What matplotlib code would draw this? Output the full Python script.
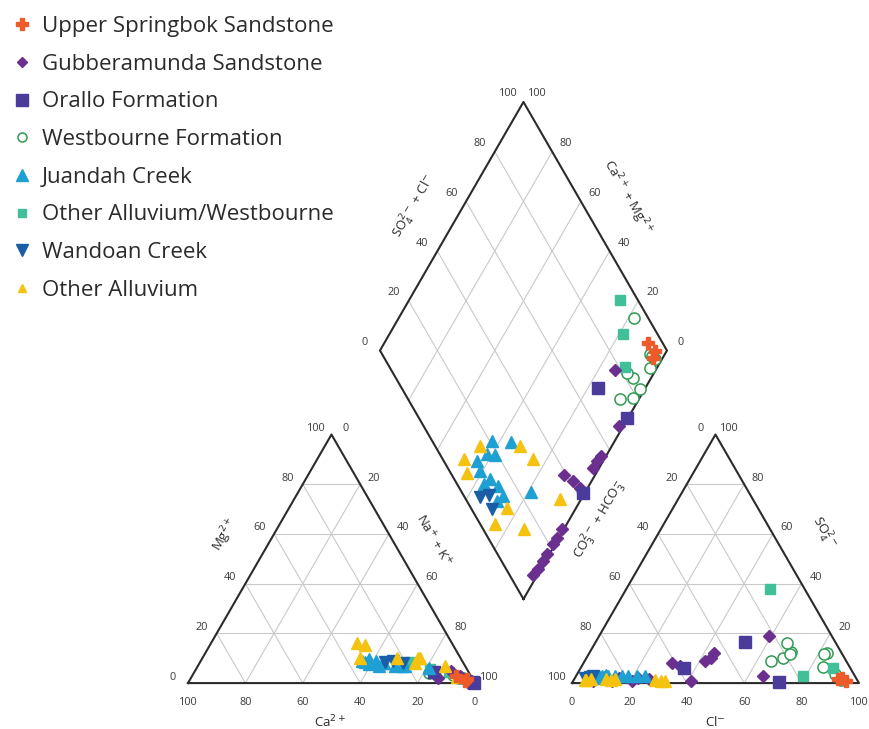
import numpy as np
import matplotlib
matplotlib.use("Agg")
import matplotlib.pyplot as plt
from matplotlib.lines import Line2D

plt.rcParams['font.family'] = ['Open Sans', 'DejaVu Sans']

# ---- sample chemistry (% meq) per group: cations Ca, Mg (Na+K = rest); anions Cl, SO4 (CO3+HCO3 = rest)
springbok_ca = [5, 2, 3]
springbok_mg = [3, 1.5, 1]
springbok_cl = [93, 92, 95]
springbok_so4 = [2, 1.5, 1]

gubber_ca = [1.0, 0.6, 0.6, 0.4, 0.4, 0.3, 0.3, 6, 4, 1.5, 1.2, 1.2, 1.2, 1.0, 12]
gubber_mg = [0.5, 0.5, 0.4, 0.3, 0.2, 0.1, 0.2, 5, 2.7, 1.0, 0.8, 0.7, 0.8, 0.7, 2]
gubber_cl = [7, 9.5, 13.3, 15.4, 20.5, 22, 26, 31, 34, 41, 43.5, 43.6, 41.7, 65, 59]
gubber_so4 = [1, 1.5, 1, 2, 1, 2, 1.5, 8, 7, 1, 10, 12, 9, 3, 19]

orallo_ca = [12, 0.5, 0.3]
orallo_mg = [4.5, 0.3, 0.2]
orallo_cl = [52, 36, 72]
orallo_so4 = [16.5, 6, 0.5]

westb_ca = [14, 3, 1.5, 1.4, 4, 4.5, 1.5, 1.0, 6, 2.5]
westb_mg = [4, 2, 0.8, 0.8, 2.5, 2, 1.0, 0.5, 3.2, 1.5]
westb_cl = [83, 90, 93, 84.3, 70, 65, 68.5, 67, 70, 82]
westb_so4 = [12, 3.5, 1.3, 6.4, 12.5, 9, 10, 16, 11.7, 11.7]

juandah_ca = [34, 28, 34.8, 32, 33, 27.6, 30, 24.4, 21, 22, 13, 30]
juandah_mg = [8.6, 8, 9, 9.7, 7.8, 8, 7, 7, 7, 7, 6, 9]
juandah_cl = [18, 24, 9, 13.6, 8, 10, 7, 11, 10, 8, 21, 16]
juandah_so4 = [3, 3, 2.7, 3, 2.8, 2.6, 2.2, 3, 3.4, 2.6, 3, 3]

oaw_ca = [18, 13, 7]
oaw_mg = [8.5, 5.5, 4.4]
oaw_cl = [88, 50, 79]
oaw_so4 = [6, 38, 3]

wandoan_ca = [27, 21, 24]
wandoan_mg = [8.5, 8, 9]
wandoan_cl = [3.5, 5, 6]
wandoan_so4 = [2, 2.3, 3]

alluv_ca = [33, 30.5, 22, 15, 35, 14, 17, 7, 5]
alluv_mg = [16, 15.3, 10, 10, 10, 10, 8, 7, 2.4]
alluv_cl = [6, 14, 28.5, 30.5, 4.5, 11, 4, 13, 32]
alluv_so4 = [1.5, 1.8, 1.2, 1, 1.1, 1.5, 1.3, 1.3, 1]

group_names = ["Upper Springbok Sandstone", "Gubberamunda Sandstone", "Orallo Formation",
               "Westbourne Formation", "Juandah Creek", "Other Alluvium/Westbourne",
               "Wandoan Creek", "Other Alluvium"]

tick_values = [0, 20, 40, 60, 80, 100]

# ---- Piper geometry
H = np.sqrt(3) / 2
GAP = 33.8
AX0 = 100 + GAP                   # left corner of the anion triangle
BX, BY = 100 + GAP / 2, GAP * H   # bottom vertex of the diamond


def cation_xy(ca, mg):
    ca, mg = np.asarray(ca, float), np.asarray(mg, float)
    na = 100 - ca - mg
    return na + 0.5 * mg, mg * H


def anion_xy(cl, so4):
    cl, so4 = np.asarray(cl, float), np.asarray(so4, float)
    return AX0 + cl + 0.5 * so4, so4 * H


def diamond_xy(ca, mg, cl, so4):
    u = np.asarray(ca, float) + np.asarray(mg, float)
    v = np.asarray(cl, float) + np.asarray(so4, float)
    return BX + 0.5 * (v - u), BY + H * (u + v)


fig = plt.figure(figsize=(8.69, 7.29), dpi=100)
ax = fig.add_axes([0, 0, 1, 1])
ax.set_xlim(-65.5, 237.3)
ax.set_ylim(-16.0, 238.0)
ax.axis('off')

grid_kw = dict(color='#c9c9c9', lw=0.8, zorder=1)
edge_kw = dict(color='#2b2b2b', lw=1.5, zorder=2)
tick_kw = dict(fontsize=7.8, color='#3a3a3a', ha='center', va='center',
               textcoords='offset pixels')


def triangle(x0):
    pts = np.array([[x0, 0], [x0 + 100, 0], [x0 + 50, 100 * H], [x0, 0]])
    for k in (20, 40, 60, 80):
        f = k / 100
        ax.plot([x0 + 50 * f, x0 + 100 - 50 * f], [100 * H * f] * 2, **grid_kw)
        ax.plot([x0 + 100 * f, x0 + 100 * f + 50 * (1 - f)], [0, 100 * H * (1 - f)], **grid_kw)
        ax.plot([x0 + 100 * f, x0 + 50 * f], [0, 100 * H * f], **grid_kw)
    ax.plot(pts[:, 0], pts[:, 1], **edge_kw)


triangle(0)
triangle(AX0)

# diamond
top = (BX, BY + 200 * H)
left = (BX - 50, BY + 100 * H)
right = (BX + 50, BY + 100 * H)
for k in (20, 40, 60, 80):
    f = k / 100
    ax.plot([BX - 50 * f, BX - 50 * f + 50], [BY + 100 * H * f, BY + 100 * H * f + 100 * H], **grid_kw)
    ax.plot([BX + 50 * f, BX + 50 * f - 50], [BY + 100 * H * f, BY + 100 * H * f + 100 * H], **grid_kw)
d = np.array([(BX, BY), right, top, left, (BX, BY)])
ax.plot(d[:, 0], d[:, 1], **edge_kw)

# ---- tick labels
for t in tick_values:
    f = t / 100
    # cation triangle
    ax.annotate(str(t), (50 * f, 100 * H * f), xytext=(-15, 6), **tick_kw)            # Mg
    ax.annotate(str(t), (50 + 50 * f, 100 * H * (1 - f)), xytext=(14, 6), **tick_kw)  # Na+K
    ax.annotate(str(t), (100 - 100 * f, 0), xytext=(0, -19), **tick_kw)               # Ca
    # anion triangle
    ax.annotate(str(t), (AX0 + 50 - 50 * f, 100 * H * (1 - f)), xytext=(-15, 6), **tick_kw)  # CO3+HCO3
    if t > 0:
        ax.annotate(str(t), (AX0 + 100 - 50 * f, 100 * H * f), xytext=(14, 6), **tick_kw)    # SO4
    ax.annotate(str(t), (AX0 + 100 * f, 0), xytext=(0, -19), **tick_kw)                     # Cl
    # diamond
    ax.annotate(str(t), (left[0] + 50 * f, left[1] + 100 * H * f), xytext=(-15, 8), **tick_kw)
    ax.annotate(str(t), (right[0] - 50 * f, right[1] + 100 * H * f), xytext=(14, 8), **tick_kw)

lab_kw = dict(fontsize=9.5, color='#2b2b2b', ha='center', va='center')


def fig_label(xp, yp, s, rot):
    fig.text(xp / 869, (729 - yp) / 729, s, rotation=rot, rotation_mode='anchor', **lab_kw)


fig_label(225, 535, r'Mg$^{2+}$', 60)
fig_label(433, 540, r'Na$^{+}$ + K$^{+}$', -60)
fig_label(330, 722, r'Ca$^{2+}$', 0)
fig_label(415, 207, r'SO$_4^{2-}$ + Cl$^{-}$', 60)
fig_label(627, 197, r'Ca$^{2+}$ + Mg$^{2+}$', -60)
fig_label(600, 520, r'CO$_3^{2-}$ + HCO$_3^{-}$', 60)
fig_label(823, 533, r'SO$_4^{2-}$', -60)
fig_label(715, 722, r'Cl$^{-}$', 0)

# ---- data
groups = [
    (westb_ca, westb_mg, westb_cl, westb_so4,
     dict(marker='o', ms=8, mfc='white', mec='#2f9a52', mew=1.1)),
    (oaw_ca, oaw_mg, oaw_cl, oaw_so4,
     dict(marker='s', ms=7, mfc='#41bf99', mec='#41bf99')),
    (gubber_ca, gubber_mg, gubber_cl, gubber_so4,
     dict(marker='D', ms=6.5, mfc='#6b2f8f', mec='#6b2f8f')),
    (orallo_ca, orallo_mg, orallo_cl, orallo_so4,
     dict(marker='s', ms=8, mfc='#4b3b9b', mec='#4b3b9b')),
    (juandah_ca, juandah_mg, juandah_cl, juandah_so4,
     dict(marker='^', ms=9, mfc='#1fa0d3', mec='#1fa0d3')),
    (wandoan_ca, wandoan_mg, wandoan_cl, wandoan_so4,
     dict(marker='v', ms=9, mfc='#1b5ea8', mec='#1b5ea8')),
    (alluv_ca, alluv_mg, alluv_cl, alluv_so4,
     dict(marker='^', ms=8, mfc='#f4c20f', mec='#f4c20f')),
    (springbok_ca, springbok_mg, springbok_cl, springbok_so4,
     dict(marker='P', ms=8.5, mfc='#ee5a2a', mec='#ee5a2a')),
]

for ca, mg, cl, so4, style in groups:
    for xy in (cation_xy(ca, mg), anion_xy(cl, so4), diamond_xy(ca, mg, cl, so4)):
        ax.plot(xy[0], xy[1], ls='none', zorder=3, **style)

# ---- legend
legend_styles = [
    dict(marker='P', ms=8, color='#ee5a2a'),
    dict(marker='D', ms=5.5, color='#6b2f8f'),
    dict(marker='s', ms=8, color='#4b3b9b'),
    dict(marker='o', ms=6.5, mfc='white', mec='#2f9a52', color='#2f9a52', mew=1.1),
    dict(marker='^', ms=8, color='#1fa0d3'),
    dict(marker='s', ms=5.5, color='#41bf99'),
    dict(marker='v', ms=8, color='#1b5ea8'),
    dict(marker='^', ms=5.5, color='#f4c20f'),
]
handles = [Line2D([], [], ls='none', **st) for st in legend_styles]
fig.legend(handles, group_names, loc='upper left', bbox_to_anchor=(12 / 869, 1 - 16 / 729),
           frameon=False, fontsize=16, labelspacing=0.75, handlelength=0.9,
           handletextpad=0.45, borderpad=0, borderaxespad=0, labelcolor='#2b2b2b')

fig.savefig('out.png', dpi=100, facecolor='white')
